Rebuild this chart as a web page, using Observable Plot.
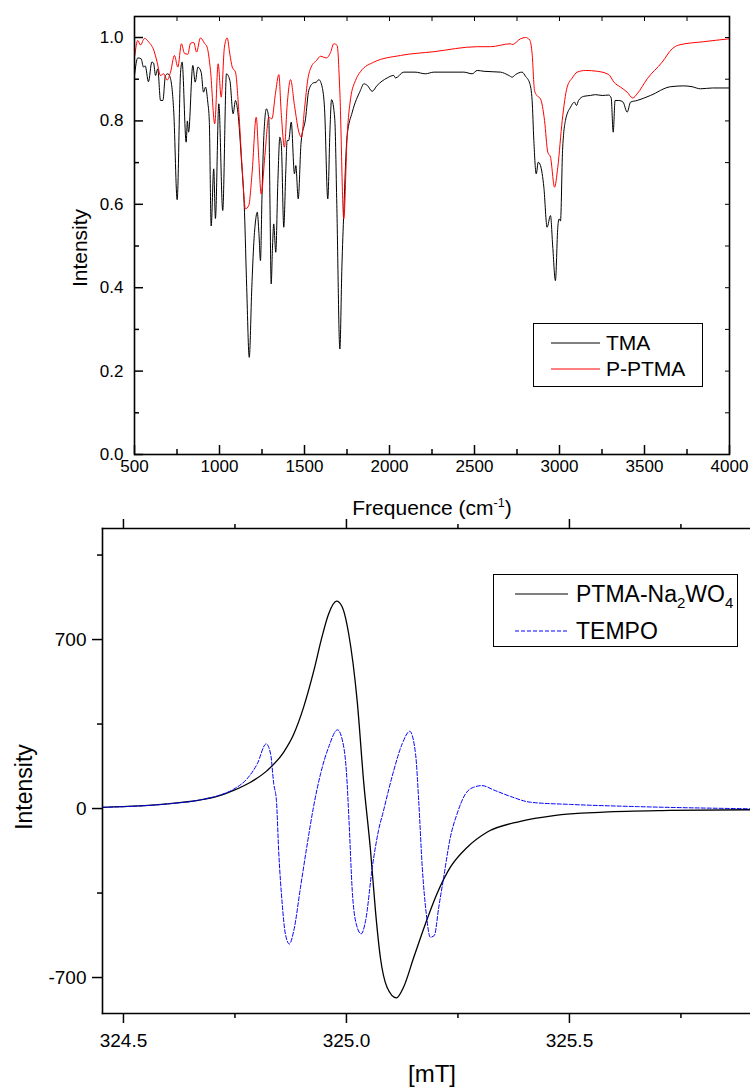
<!DOCTYPE html>
<html><head><meta charset="utf-8">
<script src="https://cdn.jsdelivr.net/npm/d3@7"></script>
<script src="https://cdn.jsdelivr.net/npm/@observablehq/plot@0.6"></script>
<style>
body{margin:0;background:#fff;font-family:"Liberation Sans",Arial,sans-serif;}
#wrap{position:relative;width:750px;height:1088px;overflow:hidden;background:#fff;}
#wrap svg{overflow:visible;display:block;}
.lbl{position:absolute;white-space:nowrap;color:#000;line-height:1;font-family:"Liberation Sans",Arial,sans-serif;}
.lbl sup{font-size:0.6em;vertical-align:0.65em;line-height:0;}
.legend{position:absolute;border:1px solid #000;background:#fff;box-sizing:border-box;}
.legend svg{display:block;overflow:visible;}
</style></head>
<body>
<div id="wrap">
  <div id="topPlot"></div>
  <div id="bottomPlot"></div>
  <div class="lbl" id="xlab1" style="left:432px;top:497px;font-size:21px;transform:translateX(-50%);">Frequence (cm<sup>-1</sup>)</div>
  <div class="lbl" style="left:79px;top:248px;font-size:21px;transform:translate(-50%,-50%) rotate(-90deg);">Intensity</div>
  <div class="lbl" style="left:24px;top:787px;font-size:23px;transform:translate(-50%,-50%) rotate(-90deg);">Intensity</div>
  <div class="lbl" style="left:432px;top:1062px;font-size:24px;transform:translateX(-50%);">[mT]</div>
  <div class="legend" style="left:533px;top:323px;width:170px;height:64px;">
    <svg width="170" height="64" font-family="Liberation Sans, Arial, sans-serif" font-size="21">
      <line x1="17" x2="66" y1="19" y2="19" stroke="#000" stroke-width="1"/>
      <text x="72" y="19" dy="0.35em" fill="#000">TMA</text>
      <line x1="17" x2="66" y1="45" y2="45" stroke="#ff0000" stroke-width="1"/>
      <text x="72" y="45" dy="0.35em" fill="#000">P-PTMA</text>
    </svg>
  </div>
  <div class="legend" style="left:493px;top:574px;width:245px;height:73px;">
    <svg width="245" height="73" font-family="Liberation Sans, Arial, sans-serif" font-size="23">
      <line x1="21" x2="74" y1="19" y2="19" stroke="#000" stroke-width="1"/>
      <text x="82" y="19" dy="0.35em" fill="#000">PTMA-Na<tspan font-size="15" dy="6">2</tspan><tspan dy="-6">WO</tspan><tspan font-size="15" dy="6">4</tspan></text>
      <line x1="21" x2="74" y1="56" y2="56" stroke="#0000ff" stroke-width="1" stroke-dasharray="4,2"/>
      <text x="82" y="56" dy="0.35em" fill="#000">TEMPO</text>
    </svg>
  </div>
</div>
<script>
// ---------- Top panel: IR spectra ----------
const tmaWavenumber = [500,519,539,553,563,582,602,612,624,637,653,667,682,696,712,731,751,771,780,804,811,818,843,857,873,892,906,918,931,940,951,966,976,996,1019,1041,1061,1080,1094,1108,1130,1147,1160,1175,1190,1202,1212,1222,1232,1241,1250,1261,1276,1290,1297,1304,1312,1319,1331,1343,1355,1364,1378,1390,1398,1407,1422,1441,1449,1463,1480,1506,1525,1551,1570,1584,1604,1618,1637,1650,1659,1678,1690,1708,1720,1731,1751,1781,1829,1849,1870,1898,1927,1986,2025,2035,2084,2150,2212,2261,2350,2437,2486,2516,2555,2653,2702,2722,2741,2780,2800,2825,2839,2849,2863,2875,2888,2908,2927,2947,2960,2976,2990,2998,3006,3018,3035,3065,3088,3100,3112,3143,3182,3212,3251,3290,3304,3316,3327,3349,3374,3398,3418,3457,3535,3653,3731,3780,3829,3900,4000];
const tmaIntensity = [0.909,0.951,0.949,0.929,0.932,0.894,0.941,0.939,0.909,0.925,0.849,0.849,0.909,0.913,0.901,0.821,0.611,0.917,0.941,0.749,0.800,0.773,0.933,0.893,0.929,0.917,0.869,0.881,0.845,0.800,0.548,0.685,0.566,0.841,0.585,0.913,0.897,0.817,0.849,0.821,0.700,0.581,0.400,0.233,0.400,0.509,0.560,0.581,0.530,0.465,0.620,0.765,0.829,0.805,0.600,0.409,0.500,0.553,0.485,0.650,0.761,0.741,0.545,0.680,0.753,0.753,0.797,0.673,0.693,0.613,0.749,0.805,0.873,0.891,0.893,0.899,0.881,0.829,0.613,0.780,0.851,0.805,0.600,0.253,0.450,0.581,0.765,0.821,0.873,0.889,0.885,0.871,0.885,0.903,0.909,0.903,0.917,0.917,0.913,0.917,0.917,0.917,0.913,0.921,0.919,0.917,0.909,0.905,0.911,0.917,0.907,0.890,0.849,0.753,0.673,0.701,0.693,0.641,0.545,0.573,0.500,0.417,0.545,0.565,0.560,0.729,0.801,0.833,0.845,0.837,0.849,0.859,0.861,0.863,0.861,0.862,0.855,0.773,0.849,0.849,0.845,0.821,0.845,0.849,0.861,0.882,0.884,0.882,0.877,0.879,0.879];
const pptmaWavenumber = [502,519,535,559,584,614,633,653,672,692,712,735,755,776,794,814,829,849,865,888,912,927,947,972,992,1010,1029,1045,1061,1075,1094,1114,1133,1153,1172,1192,1216,1231,1245,1267,1290,1308,1329,1349,1363,1382,1398,1418,1441,1467,1482,1500,1520,1539,1571,1594,1629,1653,1672,1692,1708,1731,1751,1771,1800,1829,1908,2065,2261,2516,2594,2712,2722,2771,2800,2825,2839,2853,2867,2888,2912,2931,2947,2971,2990,3016,3045,3075,3104,3153,3222,3290,3320,3359,3398,3431,3457,3516,3604,3663,3702,3849,4000];
const pptmaIntensity = [0.957,0.993,0.982,0.998,0.989,0.969,0.941,0.909,0.913,0.898,0.917,0.957,0.929,0.985,0.962,0.960,0.986,0.988,0.965,0.999,0.986,0.977,0.921,0.793,0.937,0.857,0.977,0.999,0.960,0.929,0.917,0.820,0.689,0.589,0.597,0.677,0.809,0.710,0.625,0.717,0.809,0.805,0.865,0.911,0.820,0.737,0.838,0.899,0.837,0.773,0.761,0.829,0.901,0.929,0.945,0.955,0.951,0.964,0.985,0.981,0.869,0.565,0.765,0.853,0.897,0.918,0.941,0.957,0.966,0.978,0.978,0.985,0.983,0.997,1.000,0.994,0.961,0.873,0.861,0.853,0.801,0.725,0.713,0.641,0.689,0.801,0.881,0.903,0.917,0.921,0.919,0.911,0.893,0.881,0.869,0.855,0.865,0.901,0.941,0.973,0.982,0.990,0.997];
const irXMajor = [500,1000,1500,2000,2500,3000,3500,4000];
const irXMinor = [750,1250,1750,2250,2750,3250,3750];
const irYMajor = [0,0.2,0.4,0.6,0.8,1.0];
const irYMinor = [0.1,0.3,0.5,0.7,0.9];

// ---------- Bottom panel: EPR spectra ----------
const ptmaField = [324.454,324.598,324.673,324.710,324.747,324.785,324.822,324.859,324.882,324.904,324.927,324.945,324.960,324.978,324.990,325.005,325.024,325.039,325.054,325.065,325.076,325.091,325.112,325.128,325.151,325.177,325.203,325.233,325.271,325.315,325.390,325.465,325.577,325.726,325.906];
const ptmaSignal = [5,19,36,50,75,109,157,233,309,420,572,710,806,859,837,724,447,102,-174,-423,-616,-740,-784,-740,-616,-478,-353,-243,-160,-98,-53,-29,-15,-8,-5];
const tempoField = [324.454,324.598,324.673,324.710,324.747,324.777,324.800,324.820,324.830,324.837,324.843,324.848,324.856,324.863,324.872,324.882,324.897,324.911,324.926,324.942,324.960,324.980,324.994,325.000,325.006,325.013,325.022,325.033,325.043,325.058,325.072,325.083,325.095,325.106,325.125,325.142,325.155,325.162,325.170,325.179,325.188,325.197,325.207,325.218,325.233,325.248,325.267,325.285,325.304,325.330,325.368,325.413,325.502,325.652,325.906];
const tempoSignal = [5,19,36,52,80,123,185,268,226,102,33,-174,-395,-519,-561,-505,-326,-160,5,144,254,326,254,150,-60,-340,-478,-519,-464,-243,-90,-10,80,157,268,320,226,33,-243,-436,-533,-526,-409,-285,-119,-22,61,88,95,77,50,26,17,8,-1];
const eprXMajor = [324.5,325.0,325.5];
const eprXMinor = [324.75,325.25,325.75];
const eprYMajor = [-700,0,700];
const eprYMinor = [-350,350,1050];

const rows = (xs, ys) => xs.map((x, i) => ({x, y: ys[i]}));
const font = "Liberation Sans, Arial, sans-serif";
const plainInt = d => String(d);

const topChart = Plot.plot({
  width: 750, height: 520,
  marginLeft: 134, marginRight: 21, marginTop: 16, marginBottom: 66,
  style: {fontFamily: font, fontSize: "17px", color: "#000", background: "transparent", overflow: "visible"},
  x: {domain: [500, 4000]},
  y: {domain: [0, 1.0504]},
  marks: [
    Plot.line(rows(tmaWavenumber, tmaIntensity), {x: "x", y: "y", stroke: "#000", strokeWidth: 1, curve: "monotone-x"}),
    Plot.line(rows(pptmaWavenumber, pptmaIntensity), {x: "x", y: "y", stroke: "#ff0000", strokeWidth: 1, curve: "monotone-x"}),
    Plot.frame({stroke: "#000", strokeWidth: 1.6}),
    Plot.axisX({ticks: irXMajor, anchor: "bottom", tickSize: -9, strokeWidth: 1.5, fill: "none", label: null}),
    Plot.axisX({ticks: irXMinor, anchor: "bottom", tickSize: -5, strokeWidth: 1.5, fill: "none", label: null}),
    Plot.axisX({ticks: irXMajor, anchor: "bottom", tickSize: 0, tickPadding: 5, fontSize: 17, tickFormat: plainInt, label: null}),
    Plot.axisX({ticks: irXMajor.concat(irXMinor), anchor: "top", tickSize: -4, strokeWidth: 1, fill: "none", label: null}),
    Plot.axisY({ticks: irYMajor, anchor: "left", tickSize: -9, strokeWidth: 1.5, fill: "none", label: null}),
    Plot.axisY({ticks: irYMinor, anchor: "left", tickSize: -5, strokeWidth: 1.5, fill: "none", label: null}),
    Plot.axisY({ticks: irYMajor, anchor: "left", tickSize: 0, tickPadding: 11, fontSize: 17, tickFormat: d3.format(".1f"), label: null}),
    Plot.axisY({ticks: irYMajor.concat(irYMinor), anchor: "right", tickSize: -5, strokeWidth: 1, fill: "none", label: null})
  ]
});
document.getElementById("topPlot").appendChild(topChart);

const bottomChart = Plot.plot({
  width: 750, height: 568,
  marginLeft: 102, marginRight: 0, marginTop: 8, marginBottom: 75,
  style: {fontFamily: font, fontSize: "19px", color: "#000", background: "transparent", overflow: "visible"},
  x: {domain: [324.453, 325.906]},
  y: {domain: [-849, 1160]},
  marks: [
    Plot.line(rows(ptmaField, ptmaSignal), {x: "x", y: "y", stroke: "#000", strokeWidth: 1.3, curve: "monotone-x"}),
    Plot.line(rows(tempoField, tempoSignal), {x: "x", y: "y", stroke: "#0000ff", strokeWidth: 1, strokeDasharray: "4,2", curve: "monotone-x"}),
    Plot.frame({anchor: "left", stroke: "#000", strokeWidth: 1.6}),
    Plot.frame({anchor: "top", stroke: "#000", strokeWidth: 1.6}),
    Plot.frame({anchor: "bottom", stroke: "#000", strokeWidth: 1.6}),
    Plot.axisX({ticks: eprXMajor, anchor: "bottom", tickSize: 10, strokeWidth: 1.5, fill: "none", label: null}),
    Plot.axisX({ticks: eprXMinor, anchor: "bottom", tickSize: 5, strokeWidth: 1.5, fill: "none", label: null}),
    Plot.axisX({ticks: eprXMajor, anchor: "bottom", tickSize: 0, tickPadding: 20, fontSize: 19, tickFormat: d3.format(".1f"), label: null}),
    Plot.axisX({ticks: eprXMajor, anchor: "top", tickSize: 10, strokeWidth: 1.5, fill: "none", label: null}),
    Plot.axisX({ticks: eprXMinor, anchor: "top", tickSize: 5, strokeWidth: 1.5, fill: "none", label: null}),
    Plot.axisY({ticks: eprYMajor, anchor: "left", tickSize: 10, strokeWidth: 1.5, fill: "none", label: null}),
    Plot.axisY({ticks: eprYMinor, anchor: "left", tickSize: 5, strokeWidth: 1.5, fill: "none", label: null}),
    Plot.axisY({ticks: eprYMajor, anchor: "left", tickSize: 0, tickPadding: 16, fontSize: 19, tickFormat: plainInt, label: null})
  ]
});
document.getElementById("bottomPlot").appendChild(bottomChart);
</script>
</body></html>
